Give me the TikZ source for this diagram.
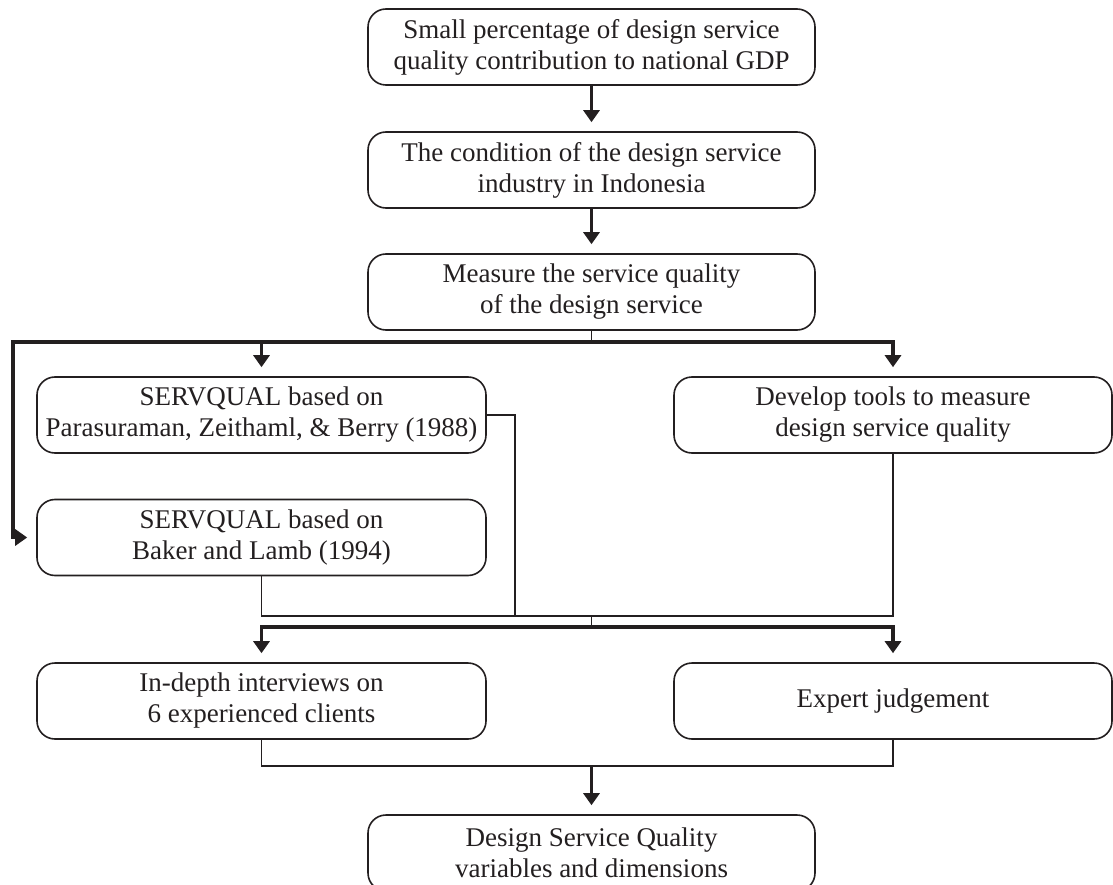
\documentclass[tikz,border=0pt]{standalone}
\usepackage{fontspec}
\setmainfont{Liberation Serif}
\usetikzlibrary{arrows.meta,calc}
\definecolor{ink}{HTML}{231F20}
\tikzset{
	box/.style={draw=ink, text=ink, line width=1.6pt, rounded corners=18pt, minimum width=447pt, minimum height=76pt, inner sep=2pt, align=center, font=\fontsize{27}{31}\selectfont},
	flow/.style={draw=ink, line width=3.2pt, -{Triangle[length=12pt,width=16pt]}, shorten >=9pt},
	merge/.style={draw=ink, line width=1.5pt}
}

\begin{document}
\begin{tikzpicture}[x=1pt,y=-1pt]
			%%%%% START %%%%%
			\useasboundingbox (0,0) rectangle (1113,885);
			\clip (0,0) rectangle (1113,885);
			
			\node[box] (n1) at (591.5,47) {Small percentage of design service\\quality contribution to national GDP};
			\node[box] (n2) at (591.5,170) {The condition of the design service\\industry in Indonesia};
			\node[box] (n3) at (591.5,292) {Measure the service quality\\of the design service};
			
			\node[box, minimum width=449pt] (n4) at (261.5,415) {SERVQUAL based on\\Parasuraman, Zeithaml, \& Berry (1988)};
			\node[box, minimum width=438pt] (n5) at (893,415) {Develop tools to measure\\design service quality};
			\node[box, minimum width=449pt] (n6) at (261.5,537.5) {SERVQUAL based on\\Baker and Lamb (1994)};
			
			\node[box, minimum width=449pt] (n7) at (261.5,701) {In-depth interviews on\\6 experienced clients};
			\node[box, minimum width=438pt] (n8) at (893,701) {Expert judgement};
			
			\node[box] (n9) at (591.5,853) {Design Service Quality\\variables and dimensions};
			
			\coordinate (split1) at (591.5,342);
			\coordinate (rim) at (13,537.5);
			\coordinate (knee) at (515,415);
			\coordinate (merge1) at (591.5,616);
			\coordinate (split2) at (591.5,627);
			\coordinate (merge2) at (591.5,766);
			
			\draw[flow] (n1.south) -- (n2.north);
			\draw[flow] (n2.south) -- (n3.north);
			
			\draw[merge] (n3.south) -- (split1);
			\draw[flow] (split1) -| (n5.north);
			\draw[flow] (split1) -| (rim) -- (n6.west);
			\draw[flow] (n4.north |- split1) -- (n4.north);
			
			\draw[merge] (n4.east) -- (knee) -- (knee |- merge1);
			\draw[merge] (n6.south) |- (merge1) -| (n5.south);
			\draw[merge] (merge1) -- (split2);
			\draw[flow] (split2) -| (n7.north);
			\draw[flow] (split2) -| (n8.north);
			
			\draw[merge] (n7.south) |- (merge2) -| (n8.south);
			\draw[flow] (merge2) -- (n9.north);
			%%%%% END %%%%%
\end{tikzpicture}
\end{document}
